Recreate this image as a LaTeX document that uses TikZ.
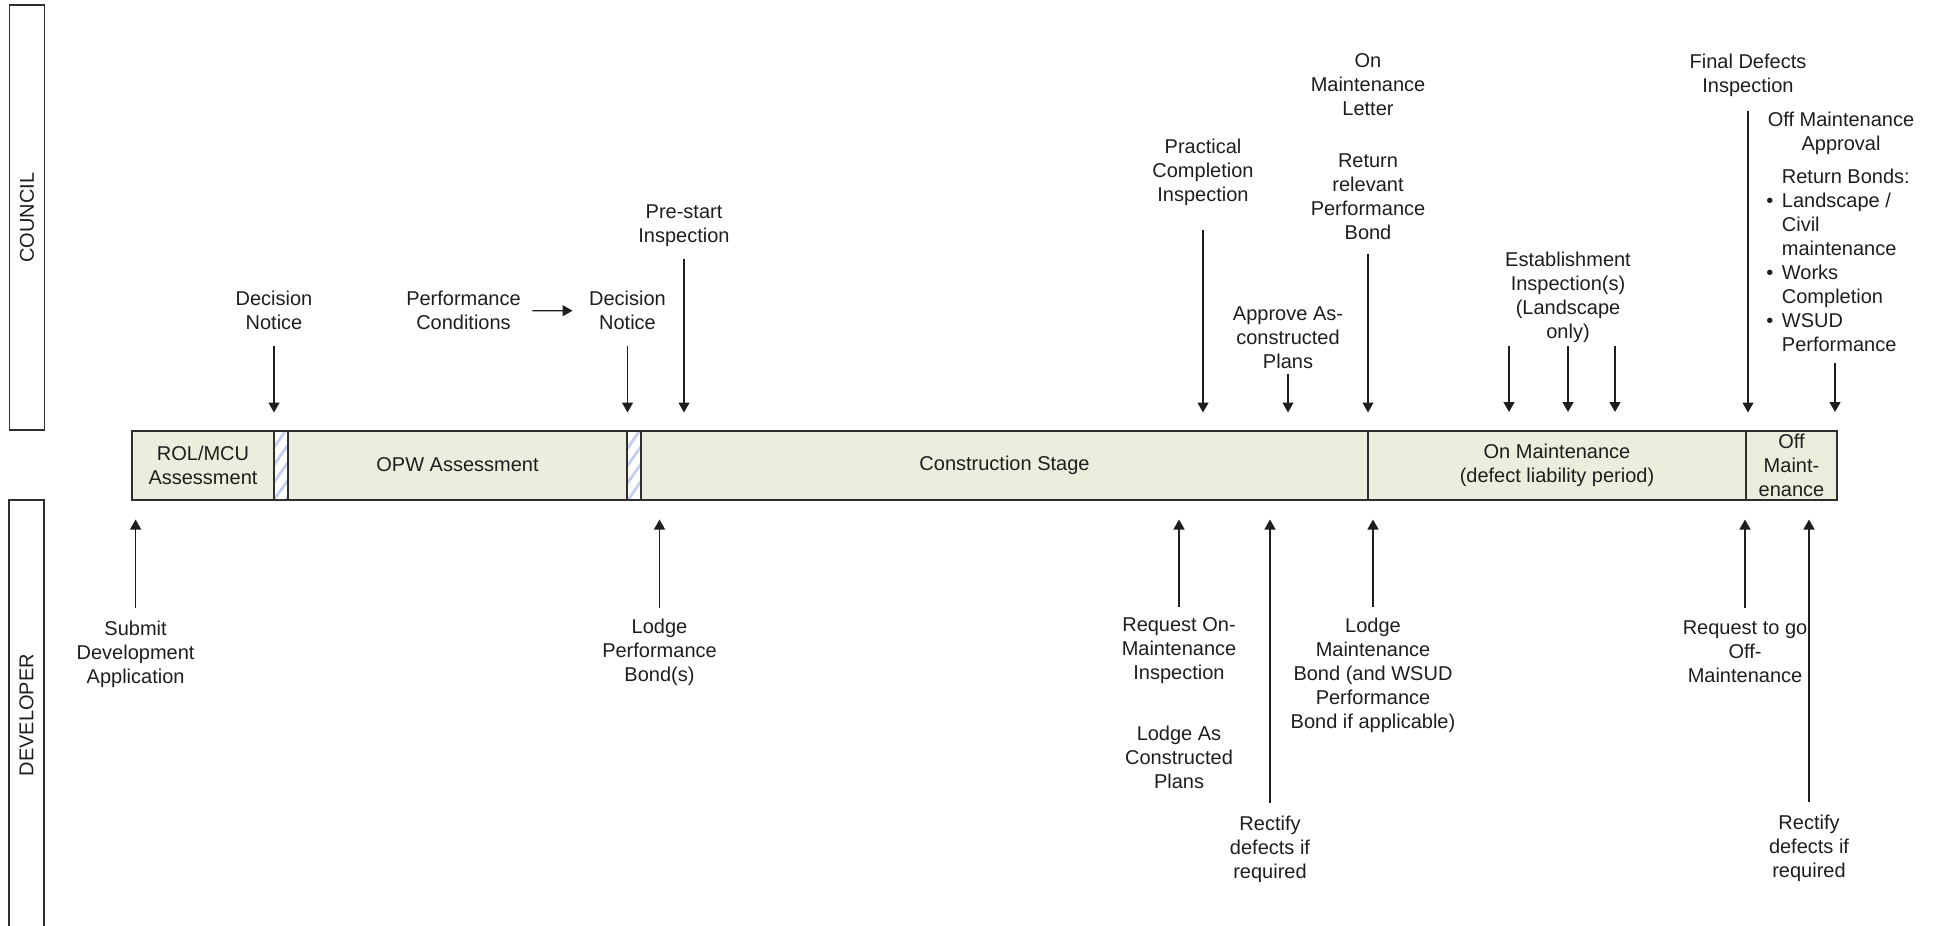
\documentclass[tikz,border=0pt]{standalone}
\usepackage{fontspec}
\setmainfont{Liberation Sans}
\usepackage{xcolor}
\usepackage{tikz}
\usetikzlibrary{arrows.meta,patterns.meta}
\definecolor{ink}{HTML}{1E1E1E}
\definecolor{frame}{HTML}{2E2E2E}
\definecolor{stage}{HTML}{EBEEDC}
\definecolor{hatchblue}{HTML}{C3CFEF}
\tikzset{
  lane/.style={draw=frame, line width=0.8pt, rotate=90, minimum height=17.5pt, inner sep=0pt, text=ink},
  stagebox/.style={draw=frame, fill=stage, line width=1pt, minimum height=34.5pt, inner sep=0pt, outer sep=0pt, align=center, anchor=west, text=ink},
  hatchbox/.style={draw=frame, line width=1pt, minimum height=34.5pt, minimum width=7pt, inner sep=0pt, outer sep=0pt, anchor=west, preaction={fill=white}, pattern={Lines[angle=55, distance=5pt, line width=1.4pt]}, pattern color=hatchblue},
  lab/.style={text=ink, align=center, inner sep=0pt, anchor=north},
  arr/.style={draw=ink, line width=0.65pt, -{Triangle[length=5pt,width=5.5pt]}},
}

\begin{document}
\begin{tikzpicture}[x=0.5pt, y=-0.5pt, font=\fontsize{10}{12}\selectfont]
  \useasboundingbox (0,0) rectangle (1933,926);

  % swim lanes
  \node[lane, minimum width=212.5pt] (council) at (27,217.5) {COUNCIL};
  \node[lane, minimum width=215pt] (developer) at (26.5,715) {DEVELOPER};

  % stages bar
  \node[stagebox, minimum width=71pt] (rol) at (132,465) {ROL/MCU\\Assessment};
  \node[hatchbox] (h1) at (rol.east) {};
  \node[stagebox, minimum width=169.5pt] (opw) at (h1.east) {OPW Assessment};
  \node[hatchbox] (h2) at (opw.east) {};
  \node[stagebox, minimum width=363.5pt] (cons) at (h2.east) {Construction Stage};
  \node[stagebox, minimum width=189pt] (onm) at (cons.east) {On Maintenance\\(defect liability period)};
  \node[stagebox, minimum width=45.5pt] (offm) at (onm.east) {Off\\Maint-\\enance};

  % council side
  \node[lab] (dn1) at (274,291) {Decision\\Notice};
  \node[lab] (pc) at (463.5,291) {Performance\\Conditions};
  \node[lab] (dn2) at (627.5,291) {Decision\\Notice};
  \node[lab] (ps) at (684,204) {Pre-start\\Inspection};
  \node[lab] (pci) at (1203,138.5) {Practical\\Completion\\Inspection};
  \node[lab] (aacp) at (1288,306) {Approve As-\\constructed\\Plans};
  \node[lab] (oml) at (1368,53.4) {On\\Maintenance\\Letter};
  \node[lab] (rrpb) at (1368,153) {Return\\relevant\\Performance\\Bond};
  \node[lab] (ei) at (1568,252) {Establishment\\Inspection(s)\\(Landscape\\only)};
  \node[lab] (fdi) at (1748,53.4) {Final Defects\\Inspection};
  \node[lab] (oma) at (1841,112) {Off Maintenance\\Approval};
  \node[lab, anchor=north west, align=left] (rb) at (1766,166) {%
    \begin{tabular}{@{}c@{\hspace{4.25pt}}l@{}}
      & Return Bonds:\\
      \textbullet & Landscape /\\
      & Civil\\
      & maintenance\\
      \textbullet & Works\\
      & Completion\\
      \textbullet & WSUD\\
      & Performance
    \end{tabular}};

  \coordinate (e1) at (1509,412);
  \coordinate (e2) at (1568,412);
  \coordinate (e3) at (1615,412);
  \coordinate (rbend) at (1835,412);

  \draw[arr, shorten <=5.6pt, shorten >=8.1pt] (pc) -- (dn2);
  \draw[arr, shorten <=7.75pt, shorten >=9pt] (dn1) -- (dn1 |- rol.north);
  \draw[arr, shorten <=8pt, shorten >=9pt] (dn2) -- (dn2 |- opw.north);
  \draw[arr, shorten <=6pt, shorten >=9pt] (ps) -- (ps |- cons.north);
  \draw[arr, shorten <=12pt, shorten >=9pt] (pci) -- (pci |- cons.north);
  \draw[arr, shorten <=2.5pt, shorten >=9pt] (aacp) -- (aacp |- cons.north);
  \draw[arr, shorten <=7pt, shorten >=9pt] (rrpb) -- (rrpb |- onm.north);
  \draw[arr, shorten <=1.5pt] (ei.south -| e1) -- (e1);
  \draw[arr, shorten <=1.5pt] (ei.south -| e2) -- (e2);
  \draw[arr, shorten <=1.5pt] (ei.south -| e3) -- (e3);
  \draw[arr, shorten <=7pt, shorten >=9pt] (fdi) -- (fdi |- offm.north);
  \draw[arr, shorten <=2pt] (rb.south -| rbend) -- (rbend);

  % developer side
  \node[lab] (sda) at (135.6,620.5) {Submit\\Development\\Application};
  \node[lab] (lpb) at (659.5,618.5) {Lodge\\Performance\\Bond(s)};
  \node[lab] (rom) at (1179,617.5) {Request On-\\Maintenance\\Inspection};
  \node[lab] (lacp) at (1179,725.5) {Lodge As\\Constructed\\Plans};
  \node[lab] (rd1) at (1270,815.5) {Rectify\\defects if\\required};
  \node[lab] (lmb) at (1373,617.5) {Lodge\\Maintenance\\Bond (and WSUD\\Performance\\Bond if applicable)};
  \node[lab] (rgo) at (1745,620) {Request to go\\Off-\\Maintenance};
  \node[lab] (rd2) at (1809,814.5) {Rectify\\defects if\\required};

  \draw[arr, shorten <=6.25pt, shorten >=10pt] (sda) -- (sda |- rol.south);
  \draw[arr, shorten <=5.25pt, shorten >=10pt] (lpb) -- (lpb |- cons.south);
  \draw[arr, shorten <=5.25pt, shorten >=10pt] (rom) -- (rom |- cons.south);
  \draw[arr, shorten <=6.25pt, shorten >=10pt] (rd1) -- (rd1 |- cons.south);
  \draw[arr, shorten <=5.25pt, shorten >=10pt] (lmb) -- (lmb |- onm.south);
  \draw[arr, shorten <=6.25pt, shorten >=10pt] (rgo) -- (rgo |- onm.south);
  \draw[arr, shorten <=6.25pt, shorten >=10pt] (rd2) -- (rd2 |- offm.south);
\end{tikzpicture}
\end{document}
